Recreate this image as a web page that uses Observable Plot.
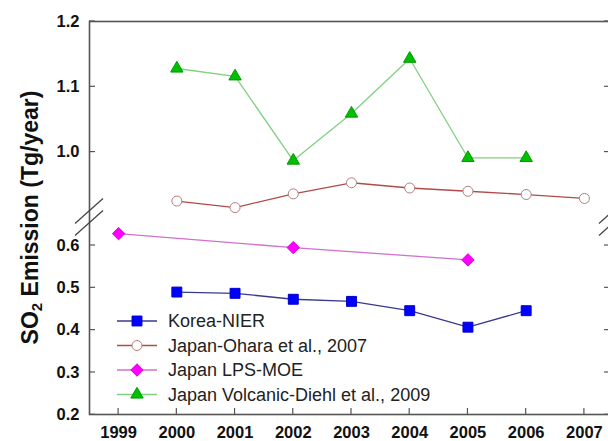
<!DOCTYPE html>
<html><head><meta charset="utf-8">
<script src="https://cdn.jsdelivr.net/npm/d3@7"></script>
<script src="https://cdn.jsdelivr.net/npm/@observablehq/plot@0.6"></script>
<style>html,body{margin:0;padding:0;background:#fff;overflow:hidden}</style>
</head><body><div id="chart"></div>
<script>
// ---- data ----
const seriesNames = ["Korea-NIER", "Japan-Ohara et al., 2007", "Japan LPS-MOE", "Japan Volcanic-Diehl et al., 2009"];
const koreaYears = [2000, 2001, 2002, 2003, 2004, 2005, 2006];
const koreaValues = [0.490, 0.487, 0.473, 0.468, 0.446, 0.407, 0.446];
const oharaYears = [2000, 2001, 2002, 2003, 2004, 2005, 2006, 2007];
const oharaValues = [0.925, 0.915, 0.936, 0.953, 0.945, 0.940, 0.935, 0.929];
const lpsYears = [1999, 2002, 2005];
const lpsValues = [0.628, 0.595, 0.566];
const volcanicYears = [2000, 2001, 2002, 2003, 2004, 2005, 2006];
const volcanicValues = [1.128, 1.116, 0.987, 1.059, 1.143, 0.991, 0.991];
const xTicks = [1999, 2000, 2001, 2002, 2003, 2004, 2005, 2006, 2007];
const yTicks = [0.2, 0.3, 0.4, 0.5, 0.6, 1.0, 1.1, 1.2];
const yBreak = [0.652, 0.909]; // top of lower segment, bottom of upper segment

// ---- styles ----
const styles = [
  {line: "#3a3a8c", fill: "#0000ff", stroke: "#0000cc", symbol: "square", r: 5.6},
  {line: "#b24a4a", fill: "#ffffff", stroke: "#b08080", symbol: "circle", r: 5},
  {line: "#d070d0", fill: "#ff00ff", stroke: "#e000e0", symbol: "diamond2", r: 5.6},
  {line: "#80d080", fill: "#00c000", stroke: "#009a00", symbol: "triangle", r: 4.6}
];
const symbolTypes = {square: d3.symbolSquare, circle: d3.symbolCircle, diamond2: d3.symbolDiamond2, triangle: d3.symbolTriangle};

const allYears = [koreaYears, oharaYears, lpsYears, volcanicYears];
const allValues = [koreaValues, oharaValues, lpsValues, volcanicValues];
const rows = seriesNames.map((name, k) => allYears[k].map((year, i) => ({name, year, value: allValues[k][i]})));

const W = 608, H = 441;
const mTop = 21, mBottom = 27, mLeft = 89, mRight = -5;
const font = "'Liberation Sans', Arial, sans-serif";
const axisColor = "#555";
const tickLen = 6;

function breakMarks(index, scales, values, dims) {
  const g = d3.create("svg:g").attr("stroke", "#444").attr("stroke-width", 1.3).attr("fill", "none");
  const yHi = scales.y(yBreak[1]), yLo = scales.y(yBreak[0]);
  for (const x0 of [dims.marginLeft, dims.width - dims.marginRight]) {
    for (const y0 of [yHi, yLo]) {
      g.append("line").attr("x1", x0 - 14).attr("y1", y0 + 12.5).attr("x2", x0 + 14).attr("y2", y0 - 12.5);
    }
  }
  return g.node();
}

function ticks(index, scales, values, dims) {
  const g = d3.create("svg:g").attr("stroke", axisColor).attr("stroke-width", 1.2);
  const xl = dims.marginLeft, xr = dims.width - dims.marginRight, yb = dims.height - dims.marginBottom;
  for (const v of yTicks) {
    const y = scales.y(v);
    g.append("line").attr("x1", xl).attr("x2", xl + tickLen).attr("y1", y).attr("y2", y);
    g.append("line").attr("x1", xr).attr("x2", xr - tickLen - 3).attr("y1", y).attr("y2", y);
  }
  for (const v of xTicks) {
    const x = scales.x(v);
    g.append("line").attr("x1", x).attr("x2", x).attr("y1", yb).attr("y2", yb - tickLen);
  }
  return g.node();
}

function legend(index, scales, values, dims) {
  const g = d3.create("svg:g");
  const x0 = dims.marginLeft + 28, y0 = dims.height - dims.marginBottom - 93, dy = 24.5;
  seriesNames.forEach((name, k) => {
    const s = styles[k], y = y0 + k * dy;
    g.append("line").attr("x1", x0).attr("x2", x0 + 40).attr("y1", y).attr("y2", y)
      .attr("stroke", s.line).attr("stroke-width", 1.3);
    g.append("path").attr("transform", `translate(${x0 + 20},${y})`)
      .attr("d", d3.symbol(symbolTypes[s.symbol], Math.PI * s.r * s.r)())
      .attr("fill", s.fill).attr("stroke", s.stroke).attr("stroke-width", 1);
    g.append("text").attr("x", x0 + 51).attr("y", y).attr("dy", "0.35em").attr("text-anchor", "start")
      .attr("font-family", font).attr("font-size", 18).attr("fill", "#222").text(name);
  });
  return g.node();
}

function yTitle(index, scales, values, dims) {
  const cy = (dims.marginTop + dims.height - dims.marginBottom) / 2;
  const t = d3.create("svg:text").attr("transform", `translate(38,${cy}) rotate(-90)`)
    .attr("text-anchor", "middle").attr("font-family", font).attr("font-weight", "bold")
    .attr("font-size", 23).attr("fill", "#111");
  t.append("tspan").text("SO");
  t.append("tspan").attr("font-size", 15).attr("dy", 4).text("2");
  t.append("tspan").attr("dy", -4).text(" Emission (Tg/year)");
  return t.node();
}

const marks = [
  Plot.frame({stroke: axisColor, strokeWidth: 1.6}),
  breakMarks,
  ticks,
  Plot.axisY(yTicks, {anchor: "left", tickSize: 0, tickPadding: 10, tickFormat: d3.format(".1f"),
    fontSize: 16.5, fontWeight: "bold", fontFamily: font, fill: "#111", label: null}),
  Plot.axisX(xTicks, {anchor: "bottom", tickSize: 0, tickPadding: 12, tickFormat: d => String(d),
    fontSize: 16.5, fontWeight: "bold", fontFamily: font, fill: "#111", label: null}),
];
rows.forEach((data, k) => {
  const s = styles[k];
  marks.push(Plot.line(data, {x: "year", y: "value", stroke: s.line, strokeWidth: 1.3}));
});
rows.forEach((data, k) => {
  const s = styles[k];
  marks.push(Plot.dot(data, {x: "year", y: "value", symbol: () => s.symbol, r: s.r, fill: s.fill, stroke: s.stroke, strokeWidth: 1}));
});
marks.push(legend, yTitle);

const plot = Plot.plot({
  width: W, height: H,
  marginTop: mTop, marginBottom: mBottom, marginLeft: mLeft, marginRight: mRight,
  style: {background: "#fff", overflow: "hidden"},
  x: {domain: [1998.5, 2007.5], axis: null},
  y: {type: "linear", domain: [0.2, yBreak[0], yBreak[1], 1.2], range: [414.3, 223, 211, 21], axis: null},
  symbol: {type: "identity"},
  marks
});
document.getElementById("chart").appendChild(plot);
</script>
</body></html>
